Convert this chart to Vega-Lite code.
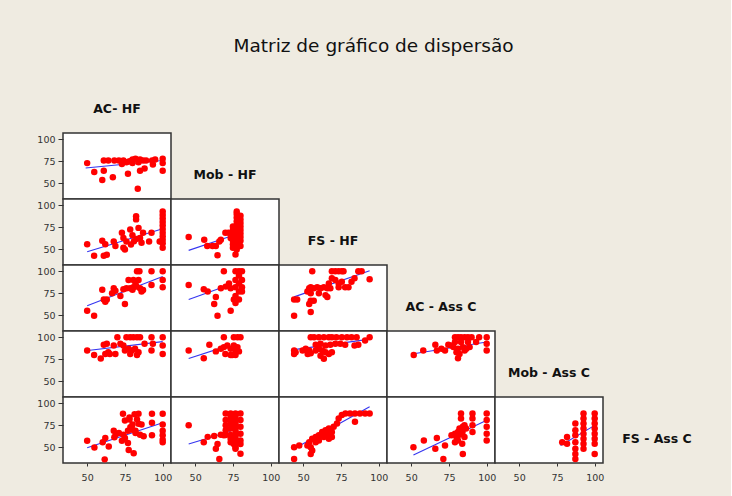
{
  "$schema": "https://vega.github.io/schema/vega-lite/v6.json",
  "background": "#efebe1",
  "padding": {"left": 36, "top": 36, "right": 20, "bottom": 14},
  "title": {"text": "Matriz de gráfico de dispersão", "font": "DejaVu Sans", "fontSize": 18.5, "fontWeight": "normal", "color": "#111", "anchor": "middle", "offset": 12},
  "columns": 6,
  "spacing": 0,
  "bounds": "flush",
  "config": {
    "view": {"fill": "white", "stroke": "#333", "strokeWidth": 1.5},
    "axis": {"domain": false, "grid": false, "labelFont": "DejaVu Sans", "labelFontSize": 9.5, "labelColor": "#333", "tickColor": "#333", "title": null},
    "axisY": {"tickSize": 5, "labelPadding": 3},
    "axisX": {"tickSize": 3, "labelPadding": 6},
    "text": {"font": "DejaVu Sans", "fontWeight": "bold", "fontSize": 12.5, "color": "#111", "dy": 9}
  },
  "datasets": {
    "p00": [{"x":50,"y":73},{"x":54.7,"y":63},{"x":60,"y":54},{"x":61,"y":64.5},{"x":67,"y":57},{"x":61,"y":76},{"x":64,"y":76},{"x":68,"y":76},{"x":71,"y":76},{"x":74,"y":76},{"x":78,"y":75},{"x":80,"y":77},{"x":82,"y":78},{"x":85,"y":77},{"x":87,"y":76},{"x":89,"y":76},{"x":93,"y":76},{"x":73,"y":72},{"x":80,"y":73},{"x":76,"y":74},{"x":84,"y":74},{"x":77,"y":61},{"x":83.5,"y":44},{"x":85,"y":64.5},{"x":88,"y":67},{"x":93.5,"y":71.5},{"x":95,"y":77},{"x":100,"y":78},{"x":100,"y":73},{"x":100,"y":64.5}],
    "f00": [{"x":49,"y":67.5},{"x":100,"y":76}],
    "p10": [{"x":50,"y":56},{"x":54.6,"y":43},{"x":61,"y":43},{"x":63,"y":44},{"x":60,"y":60},{"x":62,"y":56},{"x":67.6,"y":59},{"x":68.7,"y":54},{"x":73,"y":69},{"x":74,"y":52},{"x":75,"y":50},{"x":74,"y":63},{"x":76,"y":59},{"x":78.5,"y":72.6},{"x":79,"y":55.6},{"x":81,"y":59.4},{"x":82.4,"y":87.6},{"x":82.4,"y":84},{"x":84,"y":74.4},{"x":85,"y":63},{"x":86,"y":57.5},{"x":87,"y":69},{"x":91,"y":59},{"x":92.6,"y":69},{"x":98,"y":59},{"x":80,"y":66},{"x":83,"y":62},{"x":100,"y":93},{"x":100,"y":89},{"x":100,"y":85},{"x":100,"y":81},{"x":100,"y":77},{"x":100,"y":73},{"x":100,"y":69},{"x":100,"y":65},{"x":100,"y":61},{"x":100,"y":57},{"x":100,"y":52}],
    "f10": [{"x":50,"y":47.4},{"x":100,"y":73.5}],
    "p11": [{"x":45.7,"y":64},{"x":56,"y":61},{"x":58,"y":54},{"x":61.5,"y":54},{"x":63.7,"y":54},{"x":64.8,"y":43.6},{"x":66,"y":59},{"x":67,"y":61},{"x":70,"y":69},{"x":72,"y":69},{"x":73.5,"y":63},{"x":76.7,"y":44.4},{"x":80,"y":54},{"x":75,"y":52},{"x":75,"y":56},{"x":75,"y":60},{"x":75,"y":64},{"x":75,"y":68},{"x":75,"y":72},{"x":75,"y":76},{"x":77.5,"y":50},{"x":77.5,"y":54},{"x":77.5,"y":58},{"x":77.5,"y":62},{"x":77.5,"y":66},{"x":77.5,"y":70},{"x":77.5,"y":74},{"x":77.5,"y":78},{"x":77.5,"y":82},{"x":77.5,"y":86},{"x":77.5,"y":90},{"x":77.5,"y":93},{"x":80,"y":60},{"x":80,"y":64},{"x":80,"y":68},{"x":80,"y":72},{"x":80,"y":76},{"x":80,"y":80},{"x":80,"y":84},{"x":80,"y":88}],
    "f11": [{"x":45.7,"y":49},{"x":72,"y":64}],
    "p20": [{"x":50,"y":55.3},{"x":54.6,"y":49.6},{"x":60,"y":79},{"x":61,"y":68},{"x":63,"y":68},{"x":62,"y":65.5},{"x":66.5,"y":75},{"x":67.6,"y":80.7},{"x":68.7,"y":78},{"x":72,"y":72},{"x":75,"y":63},{"x":77.4,"y":90},{"x":78.5,"y":80.7},{"x":80.6,"y":81.8},{"x":82.8,"y":82.6},{"x":85,"y":80.7},{"x":87,"y":78.8},{"x":83,"y":100},{"x":84.6,"y":100},{"x":84,"y":90},{"x":82,"y":86},{"x":80,"y":79},{"x":86,"y":77},{"x":92.6,"y":100},{"x":92.6,"y":84.5},{"x":100,"y":100},{"x":100,"y":90},{"x":100,"y":82},{"x":74,"y":79.5},{"x":76,"y":80.7},{"x":80.6,"y":90}],
    "f20": [{"x":50,"y":61},{"x":100,"y":94}],
    "p21": [{"x":45.7,"y":84.5},{"x":55.7,"y":79.5},{"x":58.3,"y":77},{"x":62.6,"y":63},{"x":63.7,"y":71},{"x":64.8,"y":49.6},{"x":67,"y":80.7},{"x":69,"y":100},{"x":70.2,"y":82.6},{"x":72.4,"y":86},{"x":73.5,"y":80.7},{"x":73.5,"y":55.3},{"x":75.6,"y":68},{"x":76.7,"y":100},{"x":76.7,"y":90},{"x":76.7,"y":82},{"x":76.7,"y":72},{"x":76.7,"y":64},{"x":79,"y":100},{"x":79,"y":95},{"x":79,"y":86},{"x":79,"y":77},{"x":79,"y":68},{"x":81,"y":100},{"x":81,"y":90},{"x":81,"y":82},{"x":81,"y":77}],
    "f21": [{"x":45.7,"y":68},{"x":72.4,"y":84.5}],
    "p22": [{"x":44,"y":49.6},{"x":44,"y":68},{"x":46,"y":68},{"x":54,"y":63},{"x":55,"y":66.6},{"x":57,"y":66.6},{"x":55,"y":54},{"x":54,"y":80.7},{"x":55,"y":82},{"x":57,"y":80.7},{"x":59.3,"y":82},{"x":61.5,"y":80.7},{"x":63.7,"y":82},{"x":66,"y":80.7},{"x":56,"y":100},{"x":52.8,"y":77},{"x":55,"y":75},{"x":60.4,"y":75},{"x":64.8,"y":73},{"x":66,"y":71},{"x":67,"y":86},{"x":68,"y":80.7},{"x":69,"y":100},{"x":71.3,"y":100},{"x":73.5,"y":100},{"x":75.6,"y":100},{"x":76.7,"y":100},{"x":69,"y":92},{"x":71.3,"y":90},{"x":73.5,"y":82},{"x":77.8,"y":82},{"x":80,"y":82},{"x":82,"y":88},{"x":84,"y":92},{"x":86.5,"y":100},{"x":88.7,"y":100},{"x":94,"y":91},{"x":73.5,"y":86},{"x":75.6,"y":88}],
    "f22": [{"x":44,"y":71},{"x":94,"y":100.5}],
    "p30": [{"x":50,"y":85},{"x":54.6,"y":80},{"x":59,"y":76},{"x":61,"y":91.5},{"x":63,"y":92.6},{"x":62,"y":81},{"x":64,"y":83},{"x":70,"y":100},{"x":67.6,"y":90.7},{"x":72,"y":92.6},{"x":74,"y":90.7},{"x":76,"y":100},{"x":78.5,"y":100},{"x":80.6,"y":100},{"x":83,"y":100},{"x":85,"y":100},{"x":75,"y":85},{"x":77.4,"y":87},{"x":79.6,"y":85},{"x":81.7,"y":87},{"x":84,"y":83},{"x":78.5,"y":81},{"x":83,"y":80},{"x":88,"y":92.6},{"x":92.6,"y":100},{"x":92.6,"y":85},{"x":93.5,"y":92.6},{"x":100,"y":100},{"x":100,"y":90.7},{"x":100,"y":81},{"x":65,"y":81},{"x":68.7,"y":81}],
    "f30": [{"x":49,"y":84.7},{"x":100,"y":95}],
    "p31": [{"x":45.7,"y":85},{"x":55.7,"y":76.3},{"x":59.4,"y":91.5},{"x":63.7,"y":84},{"x":67,"y":87},{"x":69,"y":88.8},{"x":71.3,"y":90.7},{"x":69,"y":100},{"x":70,"y":81},{"x":73.5,"y":80},{"x":75.6,"y":100},{"x":78,"y":100},{"x":80,"y":100},{"x":75.6,"y":90.7},{"x":78,"y":88.8},{"x":73.5,"y":87},{"x":76.7,"y":85},{"x":74.6,"y":80},{"x":76.7,"y":80},{"x":79,"y":84}],
    "f31": [{"x":45.7,"y":76},{"x":72,"y":90.5}],
    "p32": [{"x":44,"y":85},{"x":45,"y":83},{"x":44,"y":81},{"x":49.6,"y":85},{"x":51.7,"y":87},{"x":54,"y":85},{"x":53,"y":81},{"x":55,"y":82},{"x":55,"y":100},{"x":57.2,"y":100},{"x":60.4,"y":100},{"x":63.7,"y":100},{"x":67,"y":100},{"x":69,"y":100},{"x":72,"y":100},{"x":75.6,"y":100},{"x":79,"y":100},{"x":82,"y":100},{"x":85.4,"y":100},{"x":94,"y":100},{"x":58.3,"y":91.5},{"x":61.5,"y":92.6},{"x":64.8,"y":90.7},{"x":68,"y":91.5},{"x":71.3,"y":92.6},{"x":74.6,"y":92.6},{"x":77.8,"y":91.5},{"x":60.4,"y":87},{"x":62.6,"y":85},{"x":64.8,"y":83},{"x":58.3,"y":85},{"x":61.5,"y":79},{"x":63.7,"y":75.6},{"x":67,"y":81},{"x":69,"y":83},{"x":84,"y":90.7},{"x":86.5,"y":91.5},{"x":91,"y":96.4}],
    "f32": [{"x":44,"y":86},{"x":93,"y":97.5}],
    "p33": [{"x":51.7,"y":80},{"x":58,"y":85},{"x":66,"y":91.5},{"x":67,"y":85},{"x":70,"y":87},{"x":72.4,"y":85},{"x":74.6,"y":91.5},{"x":76.7,"y":90.7},{"x":79,"y":100},{"x":81,"y":100},{"x":83,"y":100},{"x":85.4,"y":100},{"x":87.6,"y":100},{"x":90,"y":100},{"x":79,"y":94.5},{"x":83,"y":94.5},{"x":87.6,"y":94.5},{"x":78,"y":88.8},{"x":81,"y":87},{"x":84.3,"y":88.8},{"x":86.5,"y":87},{"x":88.7,"y":88.8},{"x":80,"y":83},{"x":82,"y":81},{"x":85.4,"y":85},{"x":81,"y":76.3},{"x":93,"y":94.5},{"x":95,"y":100},{"x":100,"y":100},{"x":100,"y":92.6},{"x":100,"y":85}],
    "f33": [{"x":50.6,"y":81},{"x":100,"y":94.5}],
    "p40": [{"x":50,"y":57.6},{"x":54.8,"y":50},{"x":60.3,"y":56},{"x":62,"y":60.7},{"x":61.6,"y":36.6},{"x":64.3,"y":51},{"x":67.6,"y":69},{"x":69,"y":65},{"x":71,"y":66.4},{"x":68,"y":61.5},{"x":73.7,"y":88},{"x":75,"y":80.5},{"x":73,"y":57.6},{"x":75,"y":60.7},{"x":77,"y":55},{"x":74,"y":64.5},{"x":78.6,"y":73},{"x":80,"y":70},{"x":77.5,"y":47.3},{"x":78,"y":81.7},{"x":81.4,"y":87.4},{"x":83,"y":81.7},{"x":84,"y":76.7},{"x":86,"y":76},{"x":80.8,"y":43.5},{"x":82,"y":66.4},{"x":85,"y":64.5},{"x":87.4,"y":62.6},{"x":92.9,"y":88},{"x":92.9,"y":77.9},{"x":92.9,"y":63.7},{"x":100,"y":88},{"x":100,"y":76},{"x":100,"y":69},{"x":100,"y":63.7},{"x":100,"y":58.8},{"x":100,"y":56},{"x":80,"y":76},{"x":82,"y":69},{"x":77,"y":69},{"x":84,"y":88},{"x":78,"y":84}],
    "f40": [{"x":50,"y":49.6},{"x":100,"y":78}],
    "p41": [{"x":45.7,"y":75},{"x":55.7,"y":56},{"x":58.3,"y":62},{"x":62.6,"y":63},{"x":63.7,"y":48.5},{"x":66,"y":37},{"x":64.8,"y":54},{"x":67,"y":64.5},{"x":69,"y":63.7},{"x":70.2,"y":88.5},{"x":70.2,"y":81},{"x":70.2,"y":75},{"x":70.2,"y":69.5},{"x":70.2,"y":64},{"x":73.5,"y":88.5},{"x":73.5,"y":84.7},{"x":73.5,"y":81},{"x":73.5,"y":77},{"x":73.5,"y":71.4},{"x":73.5,"y":64},{"x":73.5,"y":60},{"x":73.5,"y":56},{"x":76.7,"y":88.5},{"x":76.7,"y":84.7},{"x":76.7,"y":81},{"x":76.7,"y":77},{"x":76.7,"y":73.3},{"x":76.7,"y":69.5},{"x":76.7,"y":65.6},{"x":76.7,"y":62},{"x":76.7,"y":58},{"x":76.7,"y":54},{"x":76.7,"y":50},{"x":80,"y":88.5},{"x":80,"y":81},{"x":80,"y":73.3},{"x":80,"y":65.6},{"x":80,"y":58},{"x":80,"y":54},{"x":80,"y":43},{"x":75.6,"y":54},{"x":76.7,"y":48.5}],
    "f41": [{"x":45.7,"y":54},{"x":73.5,"y":68.3}],
    "p42": [{"x":44,"y":37},{"x":44,"y":50.4},{"x":47.4,"y":52.3},{"x":54,"y":56},{"x":52.8,"y":52.3},{"x":55,"y":50.4},{"x":56,"y":46.6},{"x":55,"y":42.7},{"x":56,"y":60},{"x":58.3,"y":61.8},{"x":60.4,"y":63.7},{"x":62.6,"y":67.6},{"x":64.8,"y":69.5},{"x":67,"y":71.4},{"x":60.4,"y":58},{"x":58.3,"y":56},{"x":63.7,"y":61.8},{"x":66,"y":63.7},{"x":67,"y":65.6},{"x":69,"y":67.6},{"x":70.2,"y":73.3},{"x":72.4,"y":77},{"x":73.5,"y":82.8},{"x":75.6,"y":86.6},{"x":78,"y":88.5},{"x":81,"y":88.5},{"x":84.3,"y":88.5},{"x":87.6,"y":88.5},{"x":91,"y":88.5},{"x":94,"y":88.5},{"x":84.3,"y":79},{"x":67,"y":60},{"x":69,"y":61.8}],
    "f42": [{"x":44,"y":48.5},{"x":94,"y":96}],
    "p43": [{"x":51.5,"y":50.4},{"x":58.4,"y":58},{"x":66,"y":48.5},{"x":67,"y":60.7},{"x":71.3,"y":37},{"x":72.4,"y":52.3},{"x":76.7,"y":63.7},{"x":79,"y":65.6},{"x":80,"y":61.8},{"x":81,"y":58},{"x":82,"y":64.5},{"x":84,"y":67.6},{"x":83,"y":88.5},{"x":83,"y":82.8},{"x":84.2,"y":73.3},{"x":85.3,"y":75},{"x":86.3,"y":71.4},{"x":79,"y":56},{"x":83.8,"y":54.2},{"x":84.2,"y":42.7},{"x":82,"y":71.4},{"x":81,"y":67.6},{"x":85.3,"y":61.8},{"x":90.6,"y":88.5},{"x":90.6,"y":82.8},{"x":90.6,"y":75},{"x":90.6,"y":67.6},{"x":100,"y":88.5},{"x":100,"y":81},{"x":100,"y":73.3},{"x":100,"y":65.6},{"x":100,"y":58}],
    "f43": [{"x":51.5,"y":41.6},{"x":99,"y":79.8}],
    "p44": [{"x":78.5,"y":56},{"x":81.7,"y":61.8},{"x":81.7,"y":54.2},{"x":87.2,"y":77},{"x":87.2,"y":69.5},{"x":87.2,"y":63.7},{"x":87.2,"y":56},{"x":87.2,"y":48.5},{"x":87.2,"y":42.7},{"x":87.2,"y":37},{"x":92.6,"y":88.5},{"x":92.6,"y":82.8},{"x":92.6,"y":77},{"x":92.6,"y":71.4},{"x":92.6,"y":65.6},{"x":92.6,"y":60},{"x":92.6,"y":54.2},{"x":92.6,"y":48.5},{"x":100,"y":88.5},{"x":100,"y":82.8},{"x":100,"y":77},{"x":100,"y":71.4},{"x":100,"y":65.6},{"x":100,"y":60},{"x":100,"y":54.2},{"x":100,"y":42.7}],
    "f44": [{"x":77.4,"y":52.3},{"x":100,"y":75}]
  },
  "concat": [
    {"width":108,"height":66,"data":{"values":[{"t":"AC- HF"}]},"mark":"text","encoding":{"text":{"field":"t"}},"view":{"stroke":null,"fill":null}},
    {"width":108,"height":66,"data":{"values":[]},"mark":"text","encoding":{},"view":{"stroke":null,"fill":null}},
    {"width":108,"height":66,"data":{"values":[]},"mark":"text","encoding":{},"view":{"stroke":null,"fill":null}},
    {"width":108,"height":66,"data":{"values":[]},"mark":"text","encoding":{},"view":{"stroke":null,"fill":null}},
    {"width":108,"height":66,"data":{"values":[]},"mark":"text","encoding":{},"view":{"stroke":null,"fill":null}},
    {"width":108,"height":66,"data":{"values":[]},"mark":"text","encoding":{},"view":{"stroke":null,"fill":null}},

    {"width":108,"height":66,"encoding":{"x":{"field":"x","type":"quantitative","scale":{"domain":[34,105.5],"nice":false,"zero":false},"axis":null},"y":{"field":"y","type":"quantitative","scale":{"domain":[32.5,107],"nice":false,"zero":false},"axis":{"values":[50,75,100]}}},
     "layer":[{"data":{"name":"f00"},"mark":{"type":"line","color":"#3535f0","strokeWidth":1.1}},{"data":{"name":"p00"},"mark":{"type":"circle","color":"#ff0000","size":42,"opacity":1}}]},
    {"width":108,"height":66,"data":{"values":[{"t":"Mob - HF"}]},"mark":"text","encoding":{"text":{"field":"t"}},"view":{"stroke":null,"fill":null}},
    {"width":108,"height":66,"data":{"values":[]},"mark":"text","encoding":{},"view":{"stroke":null,"fill":null}},
    {"width":108,"height":66,"data":{"values":[]},"mark":"text","encoding":{},"view":{"stroke":null,"fill":null}},
    {"width":108,"height":66,"data":{"values":[]},"mark":"text","encoding":{},"view":{"stroke":null,"fill":null}},
    {"width":108,"height":66,"data":{"values":[]},"mark":"text","encoding":{},"view":{"stroke":null,"fill":null}},

    {"width":108,"height":66,"encoding":{"x":{"field":"x","type":"quantitative","scale":{"domain":[34,105.5],"nice":false,"zero":false},"axis":null},"y":{"field":"y","type":"quantitative","scale":{"domain":[32.5,107],"nice":false,"zero":false},"axis":{"values":[50,75,100]}}},
     "layer":[{"data":{"name":"f10"},"mark":{"type":"line","color":"#3535f0","strokeWidth":1.1}},{"data":{"name":"p10"},"mark":{"type":"circle","color":"#ff0000","size":42,"opacity":1}}]},
    {"width":108,"height":66,"encoding":{"x":{"field":"x","type":"quantitative","scale":{"domain":[34,105.5],"nice":false,"zero":false},"axis":null},"y":{"field":"y","type":"quantitative","scale":{"domain":[32.5,107],"nice":false,"zero":false},"axis":null}},
     "layer":[{"data":{"name":"f11"},"mark":{"type":"line","color":"#3535f0","strokeWidth":1.1}},{"data":{"name":"p11"},"mark":{"type":"circle","color":"#ff0000","size":42,"opacity":1}}]},
    {"width":108,"height":66,"data":{"values":[{"t":"FS - HF"}]},"mark":"text","encoding":{"text":{"field":"t"}},"view":{"stroke":null,"fill":null}},
    {"width":108,"height":66,"data":{"values":[]},"mark":"text","encoding":{},"view":{"stroke":null,"fill":null}},
    {"width":108,"height":66,"data":{"values":[]},"mark":"text","encoding":{},"view":{"stroke":null,"fill":null}},
    {"width":108,"height":66,"data":{"values":[]},"mark":"text","encoding":{},"view":{"stroke":null,"fill":null}},

    {"width":108,"height":66,"encoding":{"x":{"field":"x","type":"quantitative","scale":{"domain":[34,105.5],"nice":false,"zero":false},"axis":null},"y":{"field":"y","type":"quantitative","scale":{"domain":[32.5,107],"nice":false,"zero":false},"axis":{"values":[50,75,100]}}},
     "layer":[{"data":{"name":"f20"},"mark":{"type":"line","color":"#3535f0","strokeWidth":1.1}},{"data":{"name":"p20"},"mark":{"type":"circle","color":"#ff0000","size":42,"opacity":1}}]},
    {"width":108,"height":66,"encoding":{"x":{"field":"x","type":"quantitative","scale":{"domain":[34,105.5],"nice":false,"zero":false},"axis":null},"y":{"field":"y","type":"quantitative","scale":{"domain":[32.5,107],"nice":false,"zero":false},"axis":null}},
     "layer":[{"data":{"name":"f21"},"mark":{"type":"line","color":"#3535f0","strokeWidth":1.1}},{"data":{"name":"p21"},"mark":{"type":"circle","color":"#ff0000","size":42,"opacity":1}}]},
    {"width":108,"height":66,"encoding":{"x":{"field":"x","type":"quantitative","scale":{"domain":[34,105.5],"nice":false,"zero":false},"axis":null},"y":{"field":"y","type":"quantitative","scale":{"domain":[32.5,107],"nice":false,"zero":false},"axis":null}},
     "layer":[{"data":{"name":"f22"},"mark":{"type":"line","color":"#3535f0","strokeWidth":1.1}},{"data":{"name":"p22"},"mark":{"type":"circle","color":"#ff0000","size":42,"opacity":1}}]},
    {"width":108,"height":66,"data":{"values":[{"t":"AC - Ass C"}]},"mark":"text","encoding":{"text":{"field":"t"}},"view":{"stroke":null,"fill":null}},
    {"width":108,"height":66,"data":{"values":[]},"mark":"text","encoding":{},"view":{"stroke":null,"fill":null}},
    {"width":108,"height":66,"data":{"values":[]},"mark":"text","encoding":{},"view":{"stroke":null,"fill":null}},

    {"width":108,"height":66,"encoding":{"x":{"field":"x","type":"quantitative","scale":{"domain":[34,105.5],"nice":false,"zero":false},"axis":null},"y":{"field":"y","type":"quantitative","scale":{"domain":[32.5,107],"nice":false,"zero":false},"axis":{"values":[50,75,100]}}},
     "layer":[{"data":{"name":"f30"},"mark":{"type":"line","color":"#3535f0","strokeWidth":1.1}},{"data":{"name":"p30"},"mark":{"type":"circle","color":"#ff0000","size":42,"opacity":1}}]},
    {"width":108,"height":66,"encoding":{"x":{"field":"x","type":"quantitative","scale":{"domain":[34,105.5],"nice":false,"zero":false},"axis":null},"y":{"field":"y","type":"quantitative","scale":{"domain":[32.5,107],"nice":false,"zero":false},"axis":null}},
     "layer":[{"data":{"name":"f31"},"mark":{"type":"line","color":"#3535f0","strokeWidth":1.1}},{"data":{"name":"p31"},"mark":{"type":"circle","color":"#ff0000","size":42,"opacity":1}}]},
    {"width":108,"height":66,"encoding":{"x":{"field":"x","type":"quantitative","scale":{"domain":[34,105.5],"nice":false,"zero":false},"axis":null},"y":{"field":"y","type":"quantitative","scale":{"domain":[32.5,107],"nice":false,"zero":false},"axis":null}},
     "layer":[{"data":{"name":"f32"},"mark":{"type":"line","color":"#3535f0","strokeWidth":1.1}},{"data":{"name":"p32"},"mark":{"type":"circle","color":"#ff0000","size":42,"opacity":1}}]},
    {"width":108,"height":66,"encoding":{"x":{"field":"x","type":"quantitative","scale":{"domain":[34,105.5],"nice":false,"zero":false},"axis":null},"y":{"field":"y","type":"quantitative","scale":{"domain":[32.5,107],"nice":false,"zero":false},"axis":null}},
     "layer":[{"data":{"name":"f33"},"mark":{"type":"line","color":"#3535f0","strokeWidth":1.1}},{"data":{"name":"p33"},"mark":{"type":"circle","color":"#ff0000","size":42,"opacity":1}}]},
    {"width":108,"height":66,"data":{"values":[{"t":"Mob - Ass C"}]},"mark":"text","encoding":{"text":{"field":"t"}},"view":{"stroke":null,"fill":null}},
    {"width":108,"height":66,"data":{"values":[]},"mark":"text","encoding":{},"view":{"stroke":null,"fill":null}},

    {"width":108,"height":66,"encoding":{"x":{"field":"x","type":"quantitative","scale":{"domain":[34,105.5],"nice":false,"zero":false},"axis":{"values":[50,75,100]}},"y":{"field":"y","type":"quantitative","scale":{"domain":[32.5,107],"nice":false,"zero":false},"axis":{"values":[50,75,100]}}},
     "layer":[{"data":{"name":"f40"},"mark":{"type":"line","color":"#3535f0","strokeWidth":1.1}},{"data":{"name":"p40"},"mark":{"type":"circle","color":"#ff0000","size":42,"opacity":1}}]},
    {"width":108,"height":66,"encoding":{"x":{"field":"x","type":"quantitative","scale":{"domain":[34,105.5],"nice":false,"zero":false},"axis":{"values":[50,75,100]}},"y":{"field":"y","type":"quantitative","scale":{"domain":[32.5,107],"nice":false,"zero":false},"axis":null}},
     "layer":[{"data":{"name":"f41"},"mark":{"type":"line","color":"#3535f0","strokeWidth":1.1}},{"data":{"name":"p41"},"mark":{"type":"circle","color":"#ff0000","size":42,"opacity":1}}]},
    {"width":108,"height":66,"encoding":{"x":{"field":"x","type":"quantitative","scale":{"domain":[34,105.5],"nice":false,"zero":false},"axis":{"values":[50,75,100]}},"y":{"field":"y","type":"quantitative","scale":{"domain":[32.5,107],"nice":false,"zero":false},"axis":null}},
     "layer":[{"data":{"name":"f42"},"mark":{"type":"line","color":"#3535f0","strokeWidth":1.1}},{"data":{"name":"p42"},"mark":{"type":"circle","color":"#ff0000","size":42,"opacity":1}}]},
    {"width":108,"height":66,"encoding":{"x":{"field":"x","type":"quantitative","scale":{"domain":[34,105.5],"nice":false,"zero":false},"axis":{"values":[50,75,100]}},"y":{"field":"y","type":"quantitative","scale":{"domain":[32.5,107],"nice":false,"zero":false},"axis":null}},
     "layer":[{"data":{"name":"f43"},"mark":{"type":"line","color":"#3535f0","strokeWidth":1.1}},{"data":{"name":"p43"},"mark":{"type":"circle","color":"#ff0000","size":42,"opacity":1}}]},
    {"width":108,"height":66,"encoding":{"x":{"field":"x","type":"quantitative","scale":{"domain":[34,105.5],"nice":false,"zero":false},"axis":{"values":[50,75,100]}},"y":{"field":"y","type":"quantitative","scale":{"domain":[32.5,107],"nice":false,"zero":false},"axis":null}},
     "layer":[{"data":{"name":"f44"},"mark":{"type":"line","color":"#3535f0","strokeWidth":1.1}},{"data":{"name":"p44"},"mark":{"type":"circle","color":"#ff0000","size":42,"opacity":1}}]},
    {"width":108,"height":66,"data":{"values":[{"t":"FS - Ass C"}]},"mark":"text","encoding":{"text":{"field":"t"}},"view":{"stroke":null,"fill":null}}
  ]
}
